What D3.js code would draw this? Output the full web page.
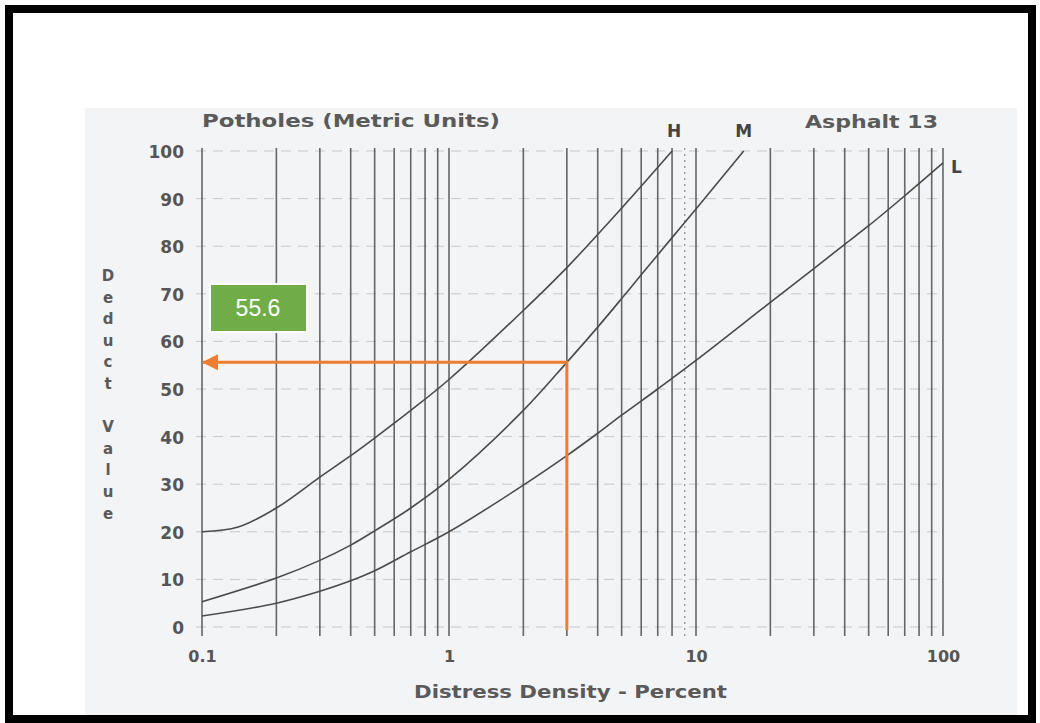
<!DOCTYPE html>
<html>
<head>
<meta charset="utf-8">
<script src="https://cdn.jsdelivr.net/npm/d3@7"></script>
<style>
  body { margin: 0; background: #fff; }
  text { font-family: "DejaVu Sans", "Liberation Sans", Arial, sans-serif; }
</style>
</head>
<body>
<div id="chart"></div>
<script>
// Potholes deduct curves
const densityH = [0.1, 0.14, 0.2, 0.3, 0.4, 0.5, 0.7, 1, 2, 3, 5, 8];
const deductH  = [20, 21, 25, 31.5, 36, 39.7, 45.5, 52, 66.5, 75.5, 88, 100];

const densityM = [0.1, 0.2, 0.3, 0.4, 0.5, 0.7, 1, 2, 3, 4, 5, 6, 8, 10, 15.6];
const deductM  = [5.3, 10.3, 14, 17.2, 20.2, 25, 31, 45.5, 55.6, 63, 69, 74, 81.8, 87.8, 100];

const densityL = [0.1, 0.2, 0.3, 0.4, 0.5, 0.7, 1, 2, 3, 4, 5, 7, 10, 20, 30, 40, 50, 70, 100];
const deductL  = [2.3, 5, 7.5, 9.7, 11.8, 15.8, 20, 29.8, 36, 40.7, 44.5, 50, 56, 68.2, 75.3, 80.4, 84.3, 90.6, 97.5];

// axis ticks and grid
const yTicks = [0, 10, 20, 30, 40, 50, 60, 70, 80, 90, 100];
const xTicks = [0.1, 1, 10, 100];
const xTickLabels = ["0.1", "1", "10", "100"];
const gridDensity = [0.1, 0.2, 0.3, 0.4, 0.5, 0.6, 0.7, 0.8, 0.9,
                     1, 2, 3, 4, 5, 6, 7, 8, 9,
                     10, 20, 30, 40, 50, 60, 70, 80, 90, 100];
const dottedDensity = [9];

// reading of the chart
const readDensity = 3;
const readDeduct = 55.6;

const width = 1040, height = 723;

const svg = d3.select("#chart")
    .append("svg")
    .attr("width", width)
    .attr("height", height);

// white page + scanned area
svg.append("rect")
    .attr("x", 0).attr("y", 0)
    .attr("width", width).attr("height", height)
    .attr("fill", "#fff");

svg.append("rect")
    .attr("x", 85).attr("y", 108)
    .attr("width", 932).attr("height", 610)
    .attr("fill", "#f3f4f6");

const x = d3.scaleLog()
    .domain([0.1, 100])
    .range([202, 943]);

const y = d3.scaleLinear()
    .domain([0, 100])
    .range([627, 151]);

// horizontal dashed grid
svg.append("g")
    .selectAll("line")
    .data(yTicks)
    .enter().append("line")
    .attr("x1", x(0.1) - 6)
    .attr("x2", x(100))
    .attr("y1", d => y(d))
    .attr("y2", d => y(d))
    .attr("stroke", "#a5a5a5")
    .attr("stroke-width", 1)
    .attr("stroke-dasharray", "10,7")
    .attr("opacity", 0.55);

// vertical log grid
svg.append("g")
    .selectAll("line")
    .data(gridDensity)
    .enter().append("line")
    .attr("x1", d => x(d))
    .attr("x2", d => x(d))
    .attr("y1", y(100) - 3)
    .attr("y2", y(0) + 9)
    .attr("stroke", d => dottedDensity.includes(d) ? "#8a8a8a" : "#4e4e4e")
    .attr("stroke-width", d => dottedDensity.includes(d) ? 1.4 : 1.6)
    .attr("stroke-dasharray", d => dottedDensity.includes(d) ? "2,4" : null)
    .attr("opacity", 0.85);

// y axis labels
const yAxis = d3.axisLeft(y).tickValues(yTicks).tickSize(0).tickPadding(0);
svg.append("g")
    .attr("transform", "translate(184,1)")
    .call(yAxis)
    .call(g => g.select(".domain").remove())
    .selectAll("text")
    .attr("fill", "#555")
    .style("font-family", "'DejaVu Sans', sans-serif")
    .style("font-size", "17px")
    .style("font-weight", "bold");

// x axis labels
const xAxis = d3.axisBottom(x)
    .tickValues(xTicks)
    .tickFormat((d, i) => xTickLabels[i])
    .tickSize(0)
    .tickPadding(0);
svg.append("g")
    .attr("transform", `translate(0,${y(0) + 24})`)
    .call(xAxis)
    .call(g => g.select(".domain").remove())
    .selectAll("text")
    .attr("fill", "#555")
    .style("font-family", "'DejaVu Sans', sans-serif")
    .style("font-size", "16px")
    .style("font-weight", "bold");

// curves
const line = d3.line()
    .x(d => x(d[0]))
    .y(d => y(d[1]))
    .curve(d3.curveCatmullRom.alpha(0.5));

const curves = [
    { name: "H", xs: densityH, ys: deductH },
    { name: "M", xs: densityM, ys: deductM },
    { name: "L", xs: densityL, ys: deductL }
];

svg.append("g")
    .selectAll("path")
    .data(curves)
    .enter().append("path")
    .attr("d", c => line(c.xs.map((v, i) => [v, c.ys[i]])))
    .attr("fill", "none")
    .attr("stroke", "#4a4a4a")
    .attr("stroke-width", 1.6);

// titles
svg.append("text")
    .attr("x", 202).attr("y", 127)
    .attr("textLength", 298)
    .attr("lengthAdjust", "spacingAndGlyphs")
    .attr("fill", "#5a5a5a")
    .style("font-size", "18px")
    .style("font-weight", "bold")
    .text("Potholes (Metric Units)");

svg.append("text")
    .attr("x", 805).attr("y", 128)
    .attr("textLength", 133)
    .attr("lengthAdjust", "spacingAndGlyphs")
    .attr("fill", "#5a5a5a")
    .style("font-size", "18px")
    .style("font-weight", "bold")
    .text("Asphalt 13");

// curve labels
svg.append("text")
    .attr("x", x(8) + 2).attr("y", 137)
    .attr("text-anchor", "middle")
    .attr("fill", "#444")
    .style("font-size", "17px")
    .style("font-weight", "bold")
    .text("H");

svg.append("text")
    .attr("x", x(15.6)).attr("y", 137)
    .attr("text-anchor", "middle")
    .attr("fill", "#444")
    .style("font-size", "17px")
    .style("font-weight", "bold")
    .text("M");

svg.append("text")
    .attr("x", 951).attr("y", 173)
    .attr("fill", "#444")
    .style("font-size", "17px")
    .style("font-weight", "bold")
    .text("L");

// x axis title
svg.append("text")
    .attr("x", 414).attr("y", 698)
    .attr("textLength", 313)
    .attr("lengthAdjust", "spacingAndGlyphs")
    .attr("fill", "#5a5a5a")
    .style("font-size", "17px")
    .style("font-weight", "bold")
    .text("Distress Density - Percent");

// y axis title, letters stacked
const yTitle = "Deduct Value".split("");
svg.append("g")
    .selectAll("text")
    .data(yTitle)
    .enter().append("text")
    .attr("x", 108)
    .attr("y", (d, i) => 281 + i * 21.6)
    .attr("text-anchor", "middle")
    .attr("fill", "#5a5a5a")
    .style("font-size", "15px")
    .style("font-weight", "bold")
    .text(d => d);

// reading arrow
svg.append("defs").append("marker")
    .attr("id", "arrow")
    .attr("viewBox", "0 0 16 16")
    .attr("refX", 15)
    .attr("refY", 8)
    .attr("markerWidth", 16)
    .attr("markerHeight", 16)
    .attr("markerUnits", "userSpaceOnUse")
    .attr("orient", "auto")
    .append("path")
    .attr("d", "M0,0 L16,8 L0,16 Z")
    .attr("fill", "#ED7D31");

svg.append("path")
    .attr("d", `M${x(readDensity)},${y(0) + 3} V${y(readDeduct)} H${x(0.1) + 1}`)
    .attr("fill", "none")
    .attr("stroke", "#ED7D31")
    .attr("stroke-width", 3)
    .attr("marker-end", "url(#arrow)");

// value label
svg.append("rect")
    .attr("x", x(0.1) + 8)
    .attr("y", 284)
    .attr("width", 97)
    .attr("height", 48)
    .attr("fill", "#70AD47")
    .attr("stroke", "#fff")
    .attr("stroke-width", 2);

svg.append("text")
    .attr("x", x(0.1) + 56)
    .attr("y", 316)
    .attr("text-anchor", "middle")
    .attr("fill", "#fff")
    .style("font-family", "'Liberation Sans', Arial, sans-serif")
    .style("font-size", "23px")
    .text(readDeduct);

// black frame
svg.append("rect")
    .attr("x", 9).attr("y", 9)
    .attr("width", 1023).attr("height", 710)
    .attr("fill", "none")
    .attr("stroke", "#000")
    .attr("stroke-width", 8);
</script>
</body>
</html>
